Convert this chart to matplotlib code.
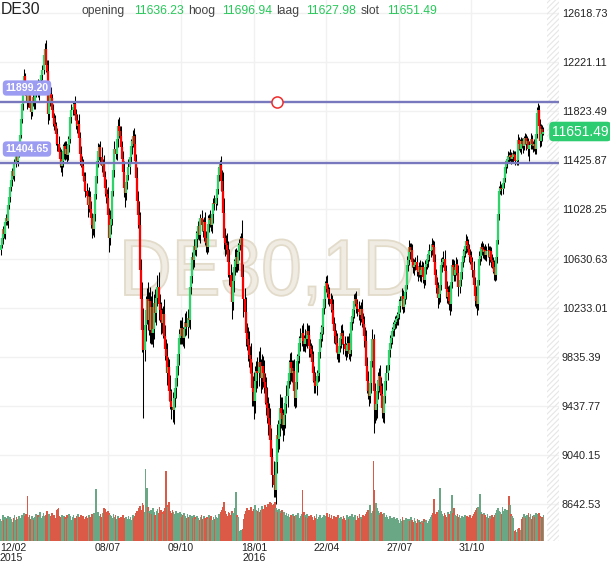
import numpy as np
import matplotlib
matplotlib.use("Agg")
import matplotlib.pyplot as plt
from matplotlib.textpath import TextPath
from matplotlib.patches import PathPatch
from matplotlib.font_manager import FontProperties
from matplotlib.transforms import Affine2D, blended_transform_factory

plt.rcParams['font.family'] = ['Liberation Sans', 'DejaVu Sans']
plt.rcParams['hatch.linewidth'] = 0.8

# daily closes DE30, 12/02/2015 .. early 02/2017
closes = [
    10740, 10795, 10870, 10830, 10925, 10960, 10935, 11060, 11130, 11210,
    11266, 11340, 11300, 11404, 11460, 11420, 11480, 11530, 11630, 11760,
    11880, 11990, 12110, 12020, 11950, 11900, 11960, 11850, 11820, 11895,
    11940, 11890, 11960, 12000, 12030, 11970, 12050, 12080, 12120, 12160,
    12280, 12330, 12200, 12150, 11800, 11900, 11960, 11930, 11830, 11770,
    11720, 11700, 11640, 11560, 11490, 11440, 11380, 11420, 11500, 11540,
    11480, 11520, 11470, 11550, 11600, 11780, 11830, 11860, 11880, 11800,
    11750, 11700, 11720, 11610, 11480, 11420, 11380, 11300, 11260, 11180,
    11140, 11060, 11130, 11030, 10960, 10900, 10870, 10990, 11150, 11300,
    11420, 11500, 11530, 11450, 11380, 11400, 11290, 11200, 11150, 11120,
    10980, 10800, 10900, 10950, 11180, 11350, 11520, 11480, 11600, 11700,
    11660, 11620, 11530, 11440, 11330, 11200, 11160, 11250, 11310, 11370,
    11450, 11540, 11580, 11620, 11560, 11420, 11280, 11100, 10980, 10900,
    10540, 10300, 10050, 9890, 10090, 10210, 10300, 10130, 10290, 10050,
    10240, 10030, 10060, 10270, 10190, 10310, 10400, 10260, 10210, 10130,
    10110, 10180, 10000, 9900, 9840, 9700, 9750, 9560, 9480, 9430,
    9400, 9500, 9580, 9660, 9760, 9860, 9990, 10020, 10070, 10000,
    9990, 10060, 10110, 10080, 10150, 10130, 10400, 10490, 10640, 10620,
    10730, 10700, 10790, 10840, 10890, 10820, 10960, 10900, 10850, 10930,
    10800, 10760, 10720, 10910, 10960, 10940, 10900, 10990, 11080, 11070,
    11120, 11190, 11310, 11360, 11390, 11260, 11180, 11000, 10800, 10760,
    10740, 10700, 10600, 10500, 10400, 10280, 10450, 10560, 10610, 10640,
    10590, 10680, 10740, 10760, 10800, 10480, 10300, 10200, 10030, 9980,
    9930, 9850, 9820, 9700, 9580, 9550, 9480, 9640, 9720, 9700,
    9790, 9750, 9660, 9760, 9700, 9630, 9580, 9460, 9420, 9340,
    9280, 9160, 9020, 8880, 8800, 8760, 8980, 9200, 9170, 9290,
    9420, 9380, 9330, 9280, 9360, 9450, 9520, 9640, 9700, 9790,
    9740, 9700, 9720, 9560, 9500, 9630, 9800, 9840, 9950, 9990,
    10030, 9960, 9940, 9990, 9980, 10040, 10010, 9920, 9900, 9860,
    9790, 9700, 9640, 9600, 9680, 9700, 9870, 9980, 10020, 10080,
    10230, 10300, 10410, 10430, 10380, 10340, 10300, 10260, 10210, 10100,
    10040, 10000, 9950, 9870, 9860, 9920, 9980, 10030, 10000, 9940,
    9900, 9880, 9930, 9950, 9860, 9890, 10120, 10160, 10210, 10290,
    10300, 10260, 10220, 10200, 10170, 10220, 10140, 10100, 10000, 9960,
    9760, 9640, 9560, 9520, 9620, 9800, 9980, 9560, 9400, 9450,
    9560, 9640, 9680, 9600, 9530, 9420, 9380, 9520, 9640, 9700,
    9770, 9890, 9950, 9990, 10040, 10060, 10100, 10120, 10140, 10150,
    10180, 10250, 10290, 10330, 10240, 10300, 10360, 10420, 10580, 10620,
    10720, 10680, 10700, 10600, 10560, 10580, 10600, 10540, 10520, 10560,
    10500, 10540, 10560, 10480, 10460, 10560, 10590, 10620, 10660, 10690,
    10700, 10740, 10720, 10600, 10500, 10420, 10390, 10310, 10340, 10420,
    10580, 10600, 10630, 10530, 10380, 10320, 10360, 10290, 10260, 10440,
    10580, 10560, 10500, 10540, 10590, 10510, 10400, 10460, 10520, 10600,
    10650, 10690, 10730, 10770, 10740, 10710, 10660, 10640, 10600, 10540,
    10420, 10330, 10290, 10260, 10460, 10630, 10650, 10720, 10710, 10680,
    10700, 10660, 10690, 10700, 10640, 10690, 10620, 10600, 10560, 10520,
    10500, 10640, 10780, 10990, 11180, 11200, 11190, 11240, 11280, 11370,
    11400, 11430, 11460, 11450, 11470, 11440, 11450, 11480, 11470, 11420,
    11430, 11590, 11560, 11520, 11580, 11560, 11540, 11600, 11610, 11560,
    11580, 11520, 11550, 11600, 11560, 11540, 11560, 11520, 11640, 11810,
    11830, 11700, 11580, 11680, 11636.23, 11651.49,
]
first_open = 10700

# wick above the body / below the body, in points
hi_wick = [
    30, 45, 25, 60, 20, 35, 50, 25, 40, 30, 55, 20, 45, 35, 25, 50, 30, 40, 25, 35,
    40, 30, 55, 25, 45, 60, 30, 35, 50, 25, 40, 35, 20, 45, 30, 55, 25, 40, 30, 35,
    50, 46, 70, 40, 90, 35, 45, 60, 30, 55, 40, 70, 35, 50, 60, 45, 80, 40, 55, 35,
    45, 60, 35, 70, 40, 30, 55, 45, 25, 65, 40, 50, 35, 80, 45, 60, 40, 55, 35, 70,
    60, 45, 80, 50, 70, 40, 55, 90, 35, 60, 45, 70, 30, 55, 80, 40, 65, 50, 75, 45,
    90, 60, 120, 70, 50, 40, 65, 55, 35, 60, 75, 45, 80, 50, 65, 90, 40, 55, 35, 70,
    45, 60, 35, 50, 70, 80, 60, 90, 75, 120, 110, 90, 140, 180, 80, 120, 95, 140, 70, 110,
    90, 130, 80, 70, 110, 60, 95, 120, 80, 70, 100, 65, 120, 90, 75, 110, 80, 70, 130, 90,
    120, 80, 70, 95, 60, 85, 70, 110, 65, 90, 75, 60, 80, 95, 70, 55, 60, 80, 45, 70,
    55, 40, 65, 50, 45, 70, 35, 60, 50, 40, 75, 55, 45, 70, 35, 60, 45, 55, 40, 65,
    50, 45, 60, 35, 40, 70, 90, 150, 120, 80, 60, 95, 70, 110, 85, 120, 90, 70, 100, 75,
    60, 80, 45, 55, 40, 140, 110, 90, 120, 80, 95, 110, 70, 130, 90, 100, 160, 120, 80, 110,
    90, 120, 70, 100, 80, 110, 75, 95, 130, 90, 120, 140, 100, 80, 110, 130, 160, 90, 120, 100,
    110, 90, 130, 80, 100, 70, 90, 60, 110, 75, 80, 65, 90, 100, 70, 85, 60, 75, 55, 80,
    60, 75, 50, 70, 45, 65, 55, 80, 60, 50, 70, 90, 60, 75, 50, 65, 80, 55, 70, 60,
    50, 65, 40, 55, 70, 45, 60, 50, 75, 90, 60, 70, 55, 80, 45, 65, 50, 60, 70, 55,
    60, 45, 70, 50, 80, 55, 45, 60, 40, 55, 50, 65, 45, 70, 55, 60, 80, 50, 65, 75,
    90, 70, 80, 60, 75, 90, 80, 40, 60, 80, 90, 70, 60, 85, 75, 90, 60, 70, 55, 65,
    50, 45, 60, 35, 40, 55, 30, 45, 35, 50, 40, 55, 35, 60, 45, 40, 50, 55, 70, 45,
    60, 40, 55, 45, 35, 50, 40, 60, 30, 45, 55, 35, 50, 40, 45, 60, 35, 50, 40, 55,
    45, 60, 40, 55, 70, 45, 60, 50, 75, 40, 55, 45, 60, 70, 50, 65, 45, 55, 80, 60,
    50, 45, 60, 35, 55, 40, 65, 45, 50, 40, 55, 35, 45, 60, 40, 50, 35, 45, 55, 40,
    70, 60, 80, 90, 75, 60, 50, 40, 55, 45, 35, 50, 40, 55, 30, 45, 35, 50, 40, 55,
    45, 60, 50, 70, 40, 55, 35, 45, 30, 50, 35, 25, 40, 30, 45, 25, 35, 30, 20, 35,
    30, 45, 25, 40, 35, 30, 45, 25, 35, 30, 40, 25, 35, 45, 30, 25, 40, 30, 45, 50,
    63, 45, 60, 40, 30, 45.45,
]
lo_wick = [
    40, 25, 50, 30, 45, 20, 35, 55, 25, 40, 30, 50, 25, 45, 35, 20, 40, 30, 55, 25,
    35, 50, 25, 45, 30, 55, 40, 25, 60, 35, 30, 45, 50, 25, 40, 30, 55, 35, 25, 45,
    35, 40, 60, 45, 80, 50, 35, 70, 40, 65, 45, 55, 90, 60, 40, 70, 50, 85, 45, 60,
    55, 40, 70, 45, 60, 35, 50, 40, 65, 45, 70, 55, 40, 60, 90, 50, 65, 45, 80, 55,
    70, 90, 50, 60, 80, 100, 45, 65, 55, 40, 60, 45, 70, 55, 50, 80, 45, 60, 70, 50,
    80, 120, 60, 70, 50, 45, 60, 40, 55, 70, 50, 65, 45, 80, 60, 70, 110, 55, 60, 45,
    55, 40, 60, 45, 70, 65, 90, 80, 100, 120, 140, 160, 180, 550, 90, 130, 110, 80, 120, 100,
    110, 90, 120, 80, 70, 100, 60, 130, 90, 110, 80, 120, 70, 95, 110, 90, 120, 80, 70, 100,
    90, 110, 70, 80, 60, 75, 90, 55, 80, 60, 70, 85, 55, 65, 90, 50, 70, 60, 55, 75,
    60, 45, 50, 70, 55, 40, 65, 50, 45, 75, 60, 80, 50, 40, 65, 55, 45, 60, 70, 50,
    45, 60, 40, 55, 50, 80, 100, 130, 90, 110, 70, 90, 120, 80, 110, 140, 70, 90, 60, 85,
    70, 50, 65, 40, 55, 120, 140, 100, 110, 90, 130, 100, 120, 90, 140, 110, 150, 100, 90, 120,
    100, 80, 120, 90, 110, 85, 130, 100, 120, 140, 110, 130, 100, 100, 100, 60, 120, 90, 110, 80,
    100, 120, 90, 130, 80, 100, 70, 90, 60, 85, 100, 70, 90, 120, 80, 70, 60, 85, 55, 70,
    65, 80, 55, 70, 60, 75, 50, 90, 65, 55, 80, 70, 95, 60, 75, 50, 60, 45, 70, 55,
    60, 45, 70, 50, 65, 80, 55, 60, 75, 50, 90, 60, 80, 55, 70, 65, 50, 75, 60, 80,
    55, 70, 50, 65, 45, 60, 50, 70, 55, 60, 45, 70, 55, 65, 80, 50, 60, 75, 90, 70,
    80, 95, 70, 85, 60, 75, 50, 340, 100, 80, 110, 70, 90, 75, 95, 80, 70, 85, 60, 75,
    55, 40, 60, 45, 50, 35, 55, 40, 50, 45, 60, 40, 55, 65, 50, 45, 40, 60, 35, 50,
    45, 55, 60, 40, 50, 65, 45, 50, 70, 40, 55, 60, 45, 50, 65, 40, 55, 45, 60, 50,
    50, 40, 55, 60, 45, 70, 55, 80, 50, 60, 45, 55, 40, 65, 70, 50, 60, 80, 90, 55,
    45, 60, 50, 55, 40, 65, 70, 45, 50, 55, 40, 50, 45, 55, 60, 40, 55, 50, 45, 60,
    70, 80, 60, 90, 50, 45, 55, 40, 50, 45, 55, 40, 50, 45, 60, 40, 55, 45, 50, 60,
    50, 40, 45, 35, 50, 30, 45, 35, 40, 30, 45, 35, 25, 40, 30, 45, 25, 35, 40, 30,
    35, 40, 50, 30, 45, 35, 55, 30, 40, 50, 35, 60, 100, 30, 45, 50, 35, 40, 40, 30,
    40, 60, 45, 35, 50, 8.25,
]
# volume (thousand lots)
volume = [
    22, 20, 26, 21, 24, 23, 22, 25, 20, 24, 22, 19, 23, 26, 21, 24, 22, 25, 20, 23,
    26, 24, 28, 25, 27, 45, 24, 26, 22, 25, 23, 21, 24, 27, 22, 26, 24, 29, 23, 25,
    28, 25, 26, 30, 24, 27, 22, 25, 28, 24, 26, 23, 31, 32, 33, 25, 24, 26, 22, 25,
    24, 22, 26, 23, 27, 25, 21, 24, 26, 23, 22, 25, 27, 24, 20, 26, 23, 25, 22, 24,
    25, 23, 26, 24, 22, 27, 25, 28, 24, 52, 26, 29, 25, 27, 24, 28, 33, 32, 26, 29,
    30, 28, 26, 25, 23, 27, 24, 26, 22, 25, 23, 21, 24, 22, 26, 23, 20, 24, 22, 25,
    22, 24, 21, 26, 23, 25, 28, 30, 29, 33, 35, 31, 38, 36, 29, 72, 53, 34, 30, 28,
    31, 27, 33, 29, 26, 30, 32, 28, 34, 31, 29, 27, 30, 33, 70, 36, 34, 39, 30, 28,
    31, 29, 27, 30, 26, 28, 25, 29, 27, 24, 26, 28, 25, 23, 27, 24, 26, 22, 25, 23,
    26, 24, 22, 25, 23, 21, 24, 26, 22, 25, 23, 20, 24, 22, 26, 23, 25, 21, 24, 22,
    26, 24, 23, 27, 25, 29, 31, 34, 39, 30, 27, 25, 29, 28, 26, 30, 28, 27, 33, 49,
    26, 24, 9, 10, 11, 12, 22, 27, 30, 33, 28, 31, 29, 34, 30, 28, 32, 36, 31, 30,
    33, 29, 31, 35, 32, 30, 36, 34, 33, 37, 35, 39, 38, 36, 37, 39, 33, 31, 29, 32,
    30, 28, 31, 27, 29, 26, 28, 25, 27, 24, 26, 23, 27, 25, 22, 26, 24, 28, 23, 25,
    27, 51, 29, 26, 24, 27, 23, 25, 22, 26, 24, 21, 25, 23, 27, 22, 24, 26, 21, 23,
    24, 26, 22, 25, 28, 24, 27, 23, 26, 22, 25, 21, 24, 22, 26, 23, 20, 24, 22, 25,
    23, 21, 26, 24, 22, 25, 23, 27, 22, 24, 26, 21, 25, 23, 27, 24, 22, 26, 21, 25,
    27, 29, 31, 26, 36, 28, 30, 80, 51, 38, 33, 30, 28, 26, 29, 27, 25, 28, 24, 26,
    24, 22, 25, 21, 23, 20, 24, 22, 19, 23, 21, 18, 22, 20, 24, 21, 19, 23, 20, 22,
    22, 20, 24, 21, 19, 23, 20, 18, 22, 21, 19, 17, 20, 18, 22, 19, 21, 18, 20, 22,
    24, 26, 28, 42, 27, 25, 29, 26, 31, 53, 30, 27, 25, 28, 26, 24, 29, 27, 25, 30,
    46, 28, 33, 26, 25, 27, 24, 26, 23, 25, 22, 24, 26, 23, 25, 22, 24, 26, 23, 25,
    27, 29, 31, 33, 34, 30, 47, 29, 27, 25, 28, 26, 24, 27, 23, 25, 22, 26, 24, 23,
    26, 28, 31, 33, 30, 29, 27, 34, 30, 32, 29, 31, 28, 45, 36, 27, 25, 23, 10, 11,
    9, 12, 13, 8, 11, 22, 24, 27, 25, 23, 26, 28, 24, 27, 22, 25, 26, 24, 28, 27,
    26, 28, 25, 23, 24, 26,
]

price_levels = [12618.73, 12221.11, 11823.49, 11425.87, 11028.25, 10630.63,
                10233.01, 9835.39, 9437.77, 9040.15, 8642.53]
date_idx = [0, 100, 168, 236, 303, 371, 438]
date_labels = ['12/02\n2015', '08/07', '09/10', '18/01\n2016', '22/04', '27/07', '31/10']
hlines = [11899.20, 11404.65]
alert_idx = 257
header = [('opening', 11636.23), ('hoog', 11696.94), ('laag', 11627.98), ('slot', 11651.49)]

closes = np.array(closes, dtype=float)
opens = np.concatenate([[first_open], closes[:-1]])
highs = np.maximum(opens, closes) + np.array(hi_wick)
lows = np.minimum(opens, closes) - np.array(lo_wick)
idx = np.arange(len(closes))
up = closes >= opens

W, H = 610, 568
fig = plt.figure(figsize=(W / 100, H / 100), dpi=100)
ax_l, ax_w, ax_h = 0, 559, 541
ax = fig.add_axes([ax_l / W, (H - ax_h) / H, ax_w / W, ax_h / H])
vax = fig.add_axes(ax.get_position(), sharex=ax)
ax.set_zorder(2)
ax.patch.set_visible(False)
vax.set_zorder(1)

ax.set_xlim(-0.47, 519.5)
ax.set_ylim(8343, 12724)
vax.set_ylim(0, 541)

# grid (drawn on the volume axes so bars sit on top of it)
for p in price_levels:
    vax.axhline((p - 8343) / (12724 - 8343) * 541, color='#f1f1f1', lw=1, zorder=0)
for i in date_idx[1:]:
    vax.axvline(i, color='#f1f1f1', lw=1, zorder=0)

# volume
vcol = np.where(up, '#6aa885', '#da5947')
vax.bar(idx, volume, width=1.6, color=vcol, linewidth=0, zorder=2)
vax.axis('off')

# watermark
tp = TextPath((0, 0), 'DE30,1D', size=1, prop=FontProperties(family='Liberation Sans'))
ext = tp.get_extents()
sx = 287 / ext.width
sy = 57 / 0.716
wm = Affine2D().scale(sx, sy).translate(125 - ext.x0 * sx, H - 295)
fig.add_artist(PathPatch(tp, transform=wm, facecolor='#f0ece3', edgecolor='#e2dbca',
                         lw=1.3, zorder=1.5))

# hatched future area
ax.axvspan(508.4, 520, hatch='//////', fill=False, ec='#e6e6e6', lw=0, zorder=0)

# candles
ax.vlines(idx, lows, highs, color='black', lw=0.75, zorder=3)
ax.vlines(idx, opens, closes, color=np.where(up, '#2ed36a', '#ff0000'), lw=1.6, zorder=4)

# horizontal lines + labels
for p in hlines:
    ax.axhline(p, color='#7878bf', lw=1.7, zorder=5)
for p, yc in zip(hlines, [88, 149]):
    ax.text(27 / ax_w, 1 - yc / ax_h, '%.2f' % p, transform=ax.transAxes, ha='center',
            va='center', color='white', fontsize=7.6, fontweight='bold', zorder=6,
            bbox=dict(boxstyle='round,pad=0.25,rounding_size=0.35', fc='#9c9cf2', ec='none'))
ax.plot(alert_idx, hlines[0], 'o', mfc='white', mec='#ee2b2b', ms=8, mew=1.1, zorder=6)

# price axis
ax.yaxis.tick_right()
ax.set_yticks(price_levels)
ax.set_yticklabels(['%.2f' % p for p in price_levels])
ax.tick_params(axis='y', length=0, pad=2, labelsize=7.8, labelcolor='#222222')
ax.set_xticks([])
for s in ax.spines.values():
    s.set_visible(False)

# last price tag
fig.text(552 / W, 1 - 131.5 / H, '%.2f' % closes[-1], ha='left', va='center', color='white',
         fontsize=10, zorder=7,
         bbox=dict(boxstyle='round,pad=0.2,rounding_size=0.3', fc='#2ecc71', ec='none'))

# date labels
tr = blended_transform_factory(ax.transData, fig.transFigure)
for i, lab in zip(date_idx, date_labels):
    ha = 'left' if i == 0 else 'center'
    x = -0.47 if i == 0 else i
    ax.text(x, 1 - 543 / H, lab, transform=tr, ha=ha, va='top', fontsize=7.6,
            color='#222222', linespacing=1.0)

# header
fig.text(1 / W, 1 - 10 / H, 'DE30', ha='left', va='center', fontsize=11.3, color='#222222')
xs = [(82, 134), (188, 222), (276, 306), (361, 387)]
for (lab, val), (xl, xv) in zip(header, xs):
    fig.text(xl / W, 1 - 11 / H, lab, ha='left', va='center', fontsize=8.7, color='#444444')
    fig.text(xv / W, 1 - 11 / H, '%.2f' % val, ha='left', va='center', fontsize=8.7,
             color='#28c85a')

fig.savefig('out.png', dpi=100, facecolor='white')
